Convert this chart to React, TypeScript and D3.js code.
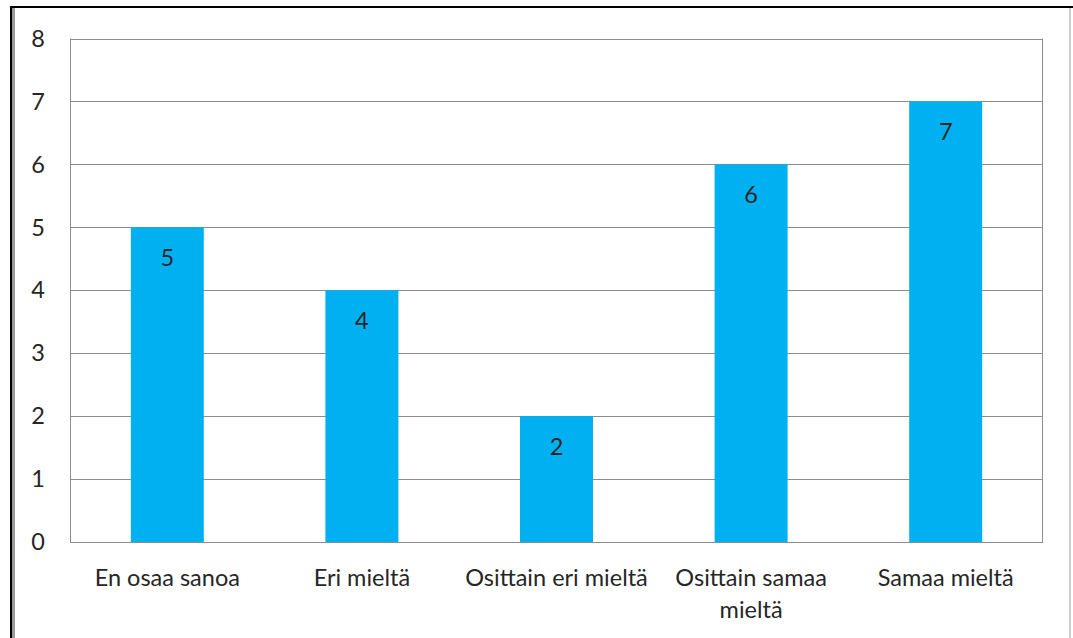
import React from "react";
import * as d3 from "d3";

const categories = ["En osaa sanoa", "Eri mieltä", "Osittain eri mieltä", "Osittain samaa|mieltä", "Samaa mieltä"];
const values = [5, 4, 2, 6, 7];
const yTicks = [0, 1, 2, 3, 4, 5, 6, 7, 8];

export default function App() {
  const W = 1073, H = 638;
  const left = 70, right = 1043, top = 38.5, bottom = 542;
  const x = d3.scaleBand<string>().domain(categories).range([left, right]).paddingInner(0.625).paddingOuter(0.3125);
  const y = d3.scaleLinear().domain([0, 8]).range([bottom, top]);
  const font = "Lato, 'Open Sans', sans-serif";
  const fs = 23.5;
  return (
    <div style={{ position: "absolute", left: 0, top: 0 }}>
      <svg width={W} height={H} style={{ display: "block" }}>
        <rect x={0} y={0} width={W} height={H} fill="#fff" />
        <line x1={10} y1={7} x2={W} y2={7} stroke="#000" strokeWidth={2} />
        <line x1={11} y1={6} x2={11} y2={H} stroke="#000" strokeWidth={2} />
        <line x1={13.5} y1={8} x2={13.5} y2={H} stroke="#999" strokeWidth={3} />
        <line x1={1070} y1={8} x2={1070} y2={H} stroke="#bbb" strokeWidth={1.5} />
        {yTicks.map(t => (
          <g key={t}>
            <line x1={left} x2={right} y1={Math.round(y(t)) + 0.5} y2={Math.round(y(t)) + 0.5} stroke="#8c8c8c" strokeWidth={1} />
            <text x={45} y={y(t)} dy="0.35em" textAnchor="end" fontFamily={font} fontSize={fs} fill="#262626">{t}</text>
          </g>
        ))}
        <line x1={left + 0.5} x2={left + 0.5} y1={top} y2={bottom} stroke="#8c8c8c" />
        <line x1={right - 0.5} x2={right - 0.5} y1={top} y2={bottom} stroke="#8c8c8c" />
        {categories.map((c, i) => (
          <g key={c}>
            <rect x={x(c)} y={y(values[i])} width={x.bandwidth()} height={y(0) - y(values[i])} fill="#00B0F0" />
            <text x={x(c)! + x.bandwidth() / 2} y={y(values[i]) + 39} textAnchor="middle" fontFamily={font} fontSize={fs} fill="#262626">{values[i]}</text>
            {c.split("|").map((line, j) => (
              <text key={j} x={x(c)! + x.bandwidth() / 2} y={586 + j * 32} textAnchor="middle" fontFamily={font} fontSize={fs} fill="#262626">{line}</text>
            ))}
          </g>
        ))}
      </svg>
    </div>
  );
}
